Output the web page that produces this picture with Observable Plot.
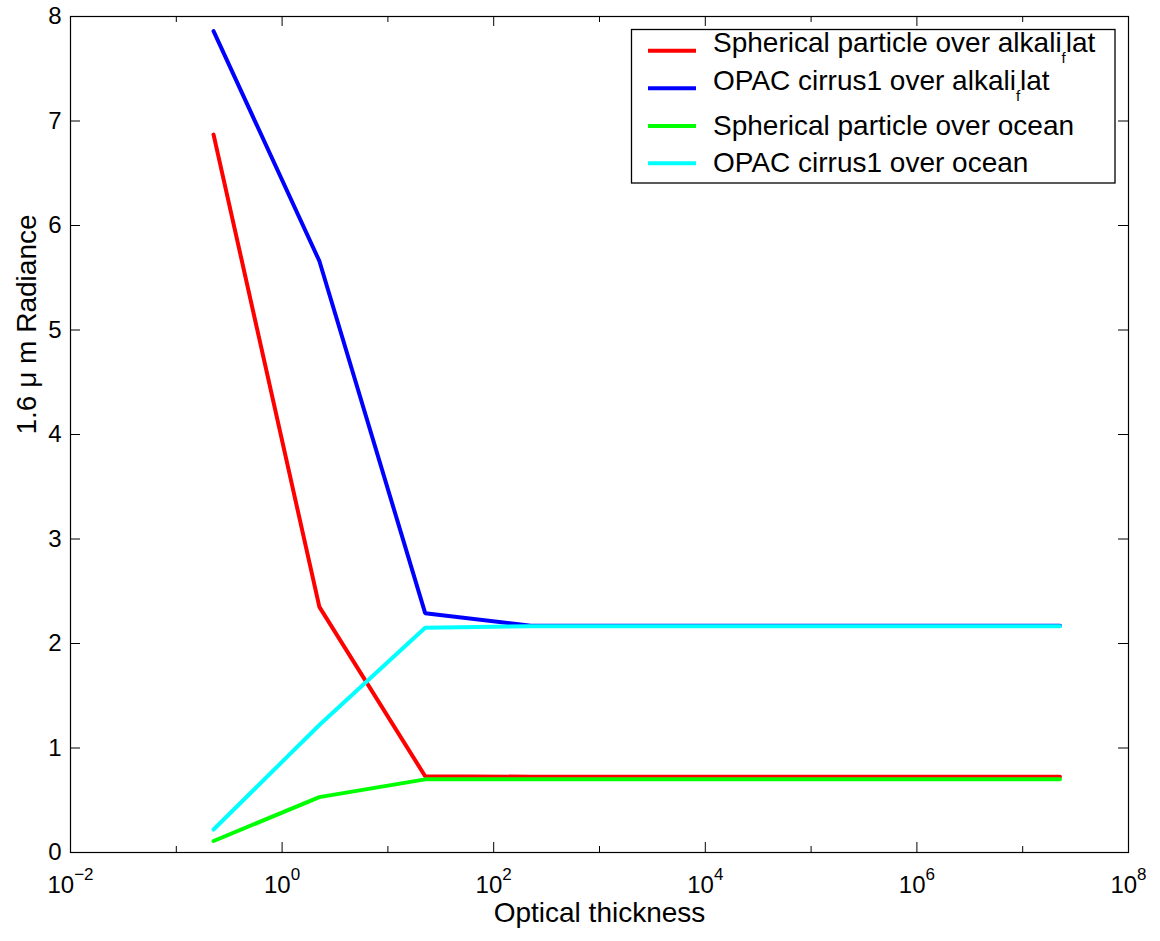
<!DOCTYPE html>
<html>
<head>
<meta charset="utf-8">
<script src="https://cdn.jsdelivr.net/npm/d3@7"></script>
<script src="https://cdn.jsdelivr.net/npm/@observablehq/plot@0.6"></script>
<style>
  body { margin: 0; background: #fff; }
  svg { font-family: "Liberation Sans", Arial, Helvetica, sans-serif; }
</style>
</head>
<body>
<div id="chart"></div>
<script>
// ---- data ----
const opticalThickness = [0.225, 2.25, 22.5, 225, 2250, 22500, 225000, 2250000, 22500000];
const seriesNames = [
  "Spherical particle over alkali_flat",
  "OPAC cirrus1 over alkali_flat",
  "Spherical particle over ocean",
  "OPAC cirrus1 over ocean"
];
const seriesColors = ["#ff0000", "#0000ff", "#00ff00", "#00ffff"];
const sphericalAlkali = [6.87, 2.35, 0.73, 0.725, 0.725, 0.725, 0.725, 0.725, 0.725];
const cirrusAlkali    = [7.86, 5.66, 2.29, 2.17, 2.17, 2.17, 2.17, 2.17, 2.17];
const sphericalOcean  = [0.11, 0.53, 0.70, 0.70, 0.70, 0.70, 0.70, 0.70, 0.70];
const cirrusOcean     = [0.22, 1.22, 2.15, 2.165, 2.165, 2.165, 2.165, 2.165, 2.165];
const xTickExponents  = [-2, -1, 0, 1, 2, 3, 4, 5, 6, 7, 8];
const xLabelExponents = [-2, 0, 2, 4, 6, 8];
const yTicks = [0, 1, 2, 3, 4, 5, 6, 7, 8];
const xTitle = "Optical thickness";
const yTitle = "1.6 \u03bc m Radiance";

// ---- build table ----
const seriesValues = [sphericalAlkali, cirrusAlkali, sphericalOcean, cirrusOcean];
const rows = [];
seriesNames.forEach((name, s) => {
  opticalThickness.forEach((x, i) => rows.push({series: name, x, y: seriesValues[s][i]}));
});

const W = 1160, H = 941, mL = 70, mR = 32, mT = 16, mB = 89;
const plotW = W - mL - mR, plotH = H - mT - mB;
const majorX = xTickExponents.filter(e => e % 2 === 0).map(e => 10 ** e);
const minorX = xTickExponents.filter(e => e % 2 !== 0).map(e => 10 ** e);
const expText = e => "10^" + (e < 0 ? "\u2212" + (-e) : String(e));

const svg = Plot.plot({
  width: W, height: H,
  marginLeft: mL, marginRight: mR, marginTop: mT, marginBottom: mB,
  style: {background: "#fff", color: "#000", fontFamily: "'Liberation Sans', Arial, sans-serif"},
  x: {type: "log", domain: [1e-2, 1e8], axis: null},
  y: {domain: [0, 8], axis: null},
  color: {domain: seriesNames, range: seriesColors},
  marks: [
    Plot.line(rows, {x: "x", y: "y", z: "series", stroke: "series", strokeWidth: 4,
      strokeLinecap: "round", strokeLinejoin: "miter"}),
    Plot.frame({stroke: "#000", strokeWidth: 1.2}),
    // x ticks bottom / top
    Plot.tickX(majorX, {x: d => d, insetTop: plotH - 10, stroke: "#000"}),
    Plot.tickX(minorX, {x: d => d, insetTop: plotH - 6, stroke: "#000"}),
    Plot.tickX(majorX, {x: d => d, insetBottom: plotH - 10, stroke: "#000"}),
    Plot.tickX(minorX, {x: d => d, insetBottom: plotH - 6, stroke: "#000"}),
    // y ticks left / right
    Plot.tickY(yTicks, {y: d => d, insetRight: plotW - 10, stroke: "#000"}),
    Plot.tickY(yTicks, {y: d => d, insetLeft: plotW - 10, stroke: "#000"}),
    // tick labels
    Plot.text(yTicks, {y: d => d, text: d => String(d), frameAnchor: "left",
      textAnchor: "end", dx: -9, fontSize: 24, fill: "#000"}),
    Plot.text(xLabelExponents, {x: d => 10 ** d, text: d => expText(d), frameAnchor: "bottom",
      lineAnchor: "bottom", dy: 40, fontSize: 24, fill: "#000"}),
    // axis titles
    Plot.text([xTitle], {text: d => d, frameAnchor: "bottom", lineAnchor: "bottom",
      dy: 69, fontSize: 28, fill: "#000"}),
    Plot.text([yTitle], {text: d => d, frameAnchor: "left", rotate: -90,
      dx: -43, fontSize: 28, fill: "#000"})
  ]
});

// exponent formatting for x tick labels
d3.select(svg).selectAll("text").each(function () {
  const t = this.textContent;
  const m = /^10\^(.+)$/.exec(t);
  if (!m) return;
  const el = d3.select(this);
  el.text("10");
  el.append("tspan").attr("dy", -13).attr("font-size", 17).text(m[1]);
});

// legend
const lg = d3.select(svg).append("g").attr("text-anchor", "start");
lg.append("rect").attr("x", 631.5).attr("y", 29.5).attr("width", 483.5).attr("height", 153.5)
  .attr("fill", "#fff").attr("stroke", "#000").attr("stroke-width", 1.3);
const lineYs = [50.7, 88.3, 126, 163.3];
const baseYs = [52, 89.5, 135, 172];
seriesNames.forEach((name, i) => {
  lg.append("line").attr("x1", 648).attr("x2", 696).attr("y1", lineYs[i]).attr("y2", lineYs[i])
    .attr("stroke", seriesColors[i]).attr("stroke-width", 4);
  const txt = lg.append("text").attr("x", 713).attr("y", baseYs[i])
    .attr("font-size", 28).attr("fill", "#000").attr("text-anchor", "start");
  const parts = name.split(/_(.)/);
  txt.append("tspan").text(parts[0]);
  if (parts.length > 1) {
    txt.append("tspan").attr("dy", 11).attr("font-size", 15).text(parts[1]);
    txt.append("tspan").attr("dy", -11).text(parts[2]);
  }
});

document.getElementById("chart").appendChild(svg);
</script>
</body>
</html>
